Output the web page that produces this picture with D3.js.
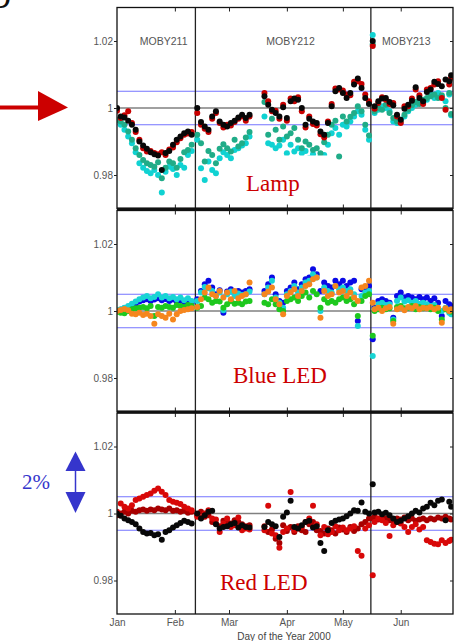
<!DOCTYPE html>
<html>
<head>
<meta charset="utf-8">
<script src="https://cdn.jsdelivr.net/npm/d3@7"></script>
<style>
  body { margin: 0; background: #fff; }
  svg { display: block; }
  .axis text { font-family: "Liberation Sans", Arial, sans-serif; font-size: 10px; fill: #555; }
  .axis line { stroke: #222; }
  .axis path { display: none; }
</style>
</head>
<body>
<svg id="chart" width="456" height="641"></svg>
<script>
// day of year 2000, one entry per plotted measurement column (shared by all panels)
const days = [
  1, 3, 5, 7, 9, 11, 13, 15, 17, 19, 21, 23, 25, 27, 29, 31, 33, 35, 37, 39, 41,
  44, 46, 48, 50, 52, 54, 56, 58, 60, 62, 64, 66, 68, 70, 72,
  80, 82, 84, 86, 88, 90, 92, 94, 96, 98, 100, 102, 104, 106, 108, 110, 112, 114, 116, 118, 120, 122, 124, 126, 128, 130, 132, 134, 136,
  138, 139, 141, 143, 145, 147, 149, 151, 153, 155, 157, 159, 161, 163, 165, 167, 169, 171, 173, 175, 177, 179, 180
];

const monthTicks = [1, 32, 61, 92, 122, 153];
const monthLabels = ["Jan", "Feb", "Mar", "Apr", "May", "Jun"];
const buoyBreaks = [43, 137];
const buoyNames = ["MOBY211", "MOBY212", "MOBY213"];
const buoyNameDays = [26, 94, 156];
const yTicks = [0.98, 1, 1.02];
const refLine = 1;
const bandLines = [0.995, 1.005];

// Lamp panel
const lampBlack = [
  1.0000, 0.9975, 0.9972, 0.9962, 0.9950, 0.9935, 0.9900, 0.9888, 0.9878, 0.9868, 0.9862, 0.9858, 0.9815, 0.9866, 0.9872, 0.9890, 0.9905, 0.9915, 0.9925, 0.9930, 0.9920,
  1.0000, 0.9958, 0.9945, 0.9935, 0.9975, 0.9990, 0.9960, 0.9950, 0.9945, 0.9955, 0.9962, 0.9972, 0.9980, 0.9970, 0.9980,
  1.0035, 1.0010, 0.9995, 0.9985, 0.9975, 1.0002, 0.9970, 1.0020, 1.0028, 1.0025, 1.0000, 0.9950, 0.9968, 0.9960, 0.9955, 0.9930, 0.9920, 0.9955, 1.0005, 1.0050, 1.0060, 1.0045, 1.0030, 1.0045, 1.0070, 1.0088, 1.0060, 1.0030, 1.0012,
  1.0200, 1.0005, 1.0020, 1.0028, 1.0030, 1.0018, 1.0008, 0.9980, 0.9965, 0.9998, 1.0010, 1.0022, 1.0062, 1.0030, 1.0020, 1.0048, 1.0055, 1.0078, 1.0072, 1.0065, 1.0085, 1.0080, 1.0098
];
const lampRed = [
  0.9992, 0.9970, 0.9978, 0.9990, 0.9955, 0.9928, 0.9905, 0.9880, 0.9870, 0.9872, 0.9866, 0.9862, 0.9868, 0.9860, 0.9876, 0.9882, 0.9898, 0.9910, 0.9920, 0.9924, 0.9928,
  0.9985, 0.9950, 0.9938, 0.9928, 0.9968, 0.9985, 0.9955, 0.9942, 0.9950, 0.9948, 0.9958, 0.9968, 0.9975, 0.9962, 0.9975,
  1.0045, 1.0020, 0.9990, 0.9992, 0.9968, 1.0010, 0.9962, 1.0028, 1.0020, 1.0032, 0.9990, 0.9942, 0.9975, 0.9952, 0.9948, 0.9922, 0.9912, 0.9960, 1.0012, 1.0058, 1.0055, 1.0052, 1.0040, 1.0038, 1.0078, 1.0080, 1.0072, 1.0040, 1.0020,
  1.0185, 0.9998, 1.0015, 1.0032, 1.0025, 1.0012, 1.0015, 0.9975, 0.9955, 1.0005, 1.0005, 1.0028, 1.0055, 1.0038, 1.0012, 1.0055, 1.0060, 1.0070, 1.0080, 1.0030, 0.9995, 1.0070, 1.0090
];
const lampTeal = [
  0.9965, 0.9960, 0.9950, 0.9930, 0.9905, 0.9880, 0.9860, 0.9845, 0.9835, 0.9830, 0.9825, 0.9838, 0.9790, 0.9822, 0.9840, 0.9835, 0.9822, 0.9848, 0.9868, 0.9875, 0.9890,
  0.9920, 0.9895, 0.9840, 0.9872, 0.9860, 0.9835, 0.9878, 0.9892, 0.9880, 0.9870, 0.9905, 0.9885, 0.9895, 0.9912, 0.9928,
  1.0018, 0.9920, 0.9968, 0.9935, 0.9905, 0.9945, 0.9915, 0.9925, 0.9940, 0.9905, 0.9880, 0.9900, 0.9890, 0.9875, 0.9880, 0.9865, 0.9898, 0.9920, 0.9950, 0.9962, 0.9855, 0.9975, 0.9960, 0.9974, 0.9985, 1.0005, 0.9990, 0.9950, 0.9918,
  1.0190, 0.9990, 1.0000, 0.9995, 1.0010, 0.9985, 0.9970, 0.9960, 0.9958, 0.9980, 0.9995, 1.0008, 1.0018, 1.0012, 1.0025, 1.0030, 1.0035, 1.0040, 1.0030, 1.0038, 1.0000, 1.0045, 0.9982
];
const lampCyan = [
  0.9962, 0.9950, 0.9935, 0.9915, 0.9895, 0.9868, 0.9835, 0.9822, 0.9812, 0.9805, 0.9815, 0.9800, 0.9748, 0.9810, 0.9825, 0.9818, 0.9800, 0.9830, 0.9822, 0.9860, 0.9872,
  0.9905, 0.9820, 0.9785, 0.9840, 0.9815, 0.9805, 0.9850, 0.9868, 0.9860, 0.9850, 0.9875, 0.9880, 0.9888, 0.9895, 0.9915,
  0.9975, 0.9895, 0.9890, 0.9880, 0.9888, 0.9905, 0.9865, 0.9890, 0.9870, 0.9880, 0.9865, 0.9872, 0.9850, 0.9862, 0.9845, 0.9855, 0.9860, 0.9890, 0.9925, 0.9940, 0.9920, 0.9950, 0.9945, 0.9960, 0.9975, 0.9990, 0.9980, 0.9935, 0.9905,
  1.0218, 0.9985, 0.9995, 1.0005, 1.0000, 0.9990, 0.9960, 0.9955, 0.9965, 0.9975, 0.9990, 1.0000, 1.0010, 1.0020, 1.0015, 1.0025, 1.0040, 1.0030, 1.0045, 1.0035, 1.0020, 1.0040, 0.9978
];

// Blue LED panel
const blueLedBlue = [
  1.0000, 1.0004, 1.0008, 1.0012, 1.0018, 1.0022, 1.0028, 1.0032, 1.0035, 1.0030, 1.0034, 1.0038, 1.0032, 1.0036, 1.0030, 1.0034, 1.0028, 1.0032, 1.0026, 1.0030, 1.0024,
  1.0035, 1.0060, 1.0080, 1.0090, 1.0070, 1.0050, 1.0062, 0.9995, 1.0058, 1.0065, 1.0052, 1.0060, 1.0055, 1.0060, 1.0065,
  1.0060, 1.0080, 1.0100, 1.0050, 1.0030, 1.0025, 1.0060, 1.0070, 1.0085, 1.0065, 1.0080, 1.0095, 1.0100, 1.0125, 1.0110, 1.0060, 1.0085, 1.0075, 1.0070, 1.0090, 1.0080, 1.0090, 1.0075, 1.0085, 1.0090, 0.9970, 1.0065, 1.0070, 1.0075,
  0.9916, 1.0010, 1.0030, 1.0035, 1.0030, 1.0025, 0.9980, 1.0045, 1.0055, 1.0040, 1.0045, 1.0040, 1.0035, 1.0042, 1.0035, 1.0040, 1.0030, 1.0038, 1.0025, 0.9985, 1.0030, 1.0020, 1.0015
];
const blueLedCyan = [
  1.0002, 1.0005, 1.0010, 1.0015, 1.0022, 1.0028, 1.0035, 1.0040, 1.0045, 1.0038, 1.0042, 1.0050, 1.0040, 1.0045, 1.0038, 1.0042, 1.0035, 1.0040, 1.0032, 1.0038, 1.0030,
  1.0030, 1.0055, 1.0072, 1.0068, 1.0060, 1.0045, 1.0055, 1.0002, 1.0050, 1.0058, 1.0045, 1.0052, 1.0048, 1.0050, 1.0058,
  1.0050, 1.0070, 1.0090, 1.0040, 1.0025, 1.0010, 1.0050, 1.0060, 1.0075, 1.0055, 1.0070, 1.0085, 1.0090, 1.0110, 1.0100, 1.0000, 1.0070, 1.0060, 1.0055, 1.0075, 1.0065, 1.0070, 1.0060, 1.0065, 1.0050, 0.9955, 1.0045, 1.0055, 1.0060,
  0.9866, 1.0005, 1.0020, 1.0025, 1.0018, 1.0020, 0.9975, 1.0030, 1.0040, 1.0028, 1.0032, 1.0025, 1.0030, 1.0022, 1.0025, 1.0020, 1.0015, 1.0018, 1.0005, 1.0000, 1.0010, 0.9995, 0.9990
];
const blueLedGreen = [
  0.9998, 0.9995, 0.9993, 1.0000, 1.0005, 1.0008, 1.0010, 1.0012, 1.0008, 1.0015, 0.9985, 1.0012, 1.0010, 1.0015, 1.0012, 1.0010, 1.0018, 1.0015, 1.0012, 1.0018, 1.0015,
  1.0010, 1.0015, 1.0040, 1.0035, 1.0025, 1.0030, 1.0028, 1.0010, 1.0020, 1.0030, 1.0022, 1.0025, 1.0020, 1.0028, 1.0030,
  1.0025, 1.0020, 1.0035, 1.0020, 1.0005, 1.0000, 1.0030, 1.0035, 1.0040, 1.0030, 1.0045, 1.0055, 1.0040, 1.0060, 1.0050, 1.0010, 1.0035, 1.0025, 1.0030, 1.0025, 1.0035, 1.0040, 1.0030, 1.0035, 1.0020, 0.9985, 1.0030, 1.0045, 1.0050,
  0.9926, 1.0000, 1.0005, 1.0010, 1.0005, 1.0008, 0.9970, 1.0012, 1.0015, 1.0008, 1.0010, 1.0015, 1.0005, 1.0012, 1.0008, 1.0010, 1.0005, 1.0010, 1.0000, 0.9975, 1.0005, 1.0000, 0.9998
];
const blueLedOrange = [
  1.0000, 1.0003, 1.0006, 1.0002, 0.9992, 0.9990, 0.9995, 0.9988, 0.9992, 0.9985, 0.9962, 0.9990, 0.9985, 0.9980, 0.9992, 0.9975, 0.9990, 1.0000, 1.0003, 1.0005, 1.0008,
  1.0012, 1.0035, 1.0055, 1.0070, 1.0050, 1.0045, 1.0060, 1.0040, 1.0055, 1.0035, 1.0060, 1.0038, 1.0045, 1.0050, 1.0085,
  1.0050, 1.0058, 1.0070, 1.0035, 1.0020, 0.9990, 1.0045, 1.0055, 1.0065, 1.0045, 1.0060, 1.0075, 1.0080, 1.0095, 1.0100, 0.9980, 1.0060, 1.0045, 1.0050, 1.0075, 1.0055, 1.0060, 1.0045, 1.0055, 1.0040, 1.0030, 1.0070, 1.0075, 1.0090,
  1.0025, 1.0005, 1.0010, 1.0000, 1.0008, 1.0012, 0.9962, 1.0005, 1.0010, 1.0002, 1.0012, 1.0008, 1.0015, 1.0005, 1.0010, 1.0008, 1.0012, 1.0005, 1.0010, 0.9965, 1.0008, 1.0000, 1.0005
];

// Red LED panel
const redLedBlack = [
  1.0000, 0.9993, 0.9985, 0.9980, 0.9975, 0.9968, 0.9955, 0.9945, 0.9940, 0.9942, 0.9935, 0.9938, 0.9922, 0.9945, 0.9950, 0.9958, 0.9965, 0.9972, 0.9978, 0.9975, 0.9970,
  1.0000, 0.9985, 0.9995, 1.0005, 1.0008, 0.9968, 0.9955, 0.9960, 0.9962, 0.9968, 0.9972, 0.9958, 0.9965, 0.9960, 0.9958,
  0.9960, 0.9975, 0.9968, 0.9962, 0.9930, 0.9990, 1.0003, 1.0038, 0.9960, 0.9955, 0.9965, 0.9975, 0.9978, 0.9958, 0.9962, 0.9912, 0.9888, 0.9950, 0.9972, 0.9978, 0.9982, 0.9985, 0.9992, 1.0000, 1.0010, 1.0008, 1.0033, 1.0005, 1.0000,
  1.0087, 1.0003, 1.0005, 0.9998, 1.0002, 0.9995, 0.9985, 0.9975, 0.9978, 0.9985, 0.9992, 1.0000, 1.0008, 1.0003, 1.0015, 1.0020, 1.0032, 1.0025, 1.0038, 1.0042, 0.9980, 1.0035, 1.0020
];
const redLedRed = [
  1.0005, 1.0030, 1.0020, 1.0015, 1.0025, 1.0040, 1.0045, 1.0050, 1.0055, 1.0060, 1.0068, 1.0075, 1.0065, 1.0055, 1.0040, 1.0035, 1.0032, 1.0028, 1.0020, 1.0015, 1.0010,
  0.9990, 0.9988, 1.0000, 1.0010, 0.9985, 0.9982, 0.9945, 0.9970, 0.9985, 0.9960, 0.9965, 0.9988, 0.9950, 0.9955, 0.9952,
  0.9950, 1.0023, 0.9940, 0.9935, 0.9898, 0.9945, 0.9955, 1.0064, 0.9950, 0.9955, 0.9960, 0.9975, 0.9985, 1.0023, 0.9968, 0.9935, 0.9960, 0.9938, 0.9945, 0.9962, 0.9950, 0.9958, 0.9950, 0.9955, 0.9962, 0.9888, 0.9874, 0.9955, 0.9965,
  0.9816, 0.9975, 0.9985, 0.9980, 0.9972, 0.9933, 0.9965, 0.9975, 0.9970, 0.9960, 0.9945, 0.9960, 0.9968, 0.9952, 0.9960, 0.9920, 0.9915, 0.9910, 0.9908, 0.9920, 0.9912, 0.9918, 0.9922
];
const redLedDark = [
  0.9995, 1.0000, 1.0005, 1.0000, 1.0008, 1.0005, 1.0010, 1.0012, 1.0008, 1.0012, 1.0010, 1.0015, 1.0012, 1.0010, 1.0015, 1.0008, 1.0010, 1.0005, 1.0008, 1.0002, 1.0005,
  0.9995, 1.0005, 0.9990, 0.9995, 0.9975, 0.9970, 0.9962, 0.9978, 0.9975, 0.9970, 0.9980, 0.9975, 0.9968, 0.9962, 0.9965,
  0.9962, 0.9945, 0.9952, 0.9925, 0.9912, 0.9965, 0.9948, 0.9960, 0.9945, 0.9962, 0.9950, 0.9945, 0.9968, 0.9975, 0.9950, 0.9948, 0.9940, 0.9955, 0.9950, 0.9940, 0.9958, 0.9952, 0.9945, 0.9960, 0.9948, 0.9955, 0.9968, 0.9975, 0.9985,
  0.9985, 0.9990, 0.9982, 0.9988, 0.9985, 0.9980, 0.9978, 0.9985, 0.9982, 0.9988, 0.9980, 0.9985, 0.9978, 0.9982, 0.9985, 0.9980, 0.9985, 0.9982, 0.9988, 0.9985, 0.9990, 0.9985, 0.9982
];

const svg = d3.select("#chart");
const plotLeft = 117, plotRight = 453, panelH = 201;

const x = d3.scaleLinear().domain([1, 181]).range([plotLeft, plotRight]);

const panels = [
  {
    top: 7.5, name: "Lamp", nameX: 246, nameY: 191, showBuoys: true,
    series: [
      { values: lampCyan, color: "#10d2d2" },
      { values: lampTeal, color: "#20ac88" },
      { values: lampRed, color: "#c80000" },
      { values: lampBlack, color: "#080808" }
    ]
  },
  {
    top: 210.5, name: "Blue LED", nameX: 233, nameY: 383,
    series: [
      { values: blueLedBlue, color: "#0a0ae6" },
      { values: blueLedCyan, color: "#18d4d4" },
      { values: blueLedGreen, color: "#1ec81e" },
      { values: blueLedOrange, color: "#f5861e" }
    ]
  },
  {
    top: 413, name: "Red LED", nameX: 220, nameY: 590, showMonths: true,
    series: [
      { values: redLedDark, color: "#a80000" },
      { values: redLedRed, color: "#d80808" },
      { values: redLedBlack, color: "#080808" }
    ]
  }
];

panels.forEach((p, i) => {
  const y = d3.scaleLinear().domain([0.97, 1.03]).range([p.top + panelH, p.top]);
  const g = svg.append("g");

  g.append("clipPath").attr("id", "clip" + i)
    .append("rect")
    .attr("x", plotLeft).attr("y", p.top)
    .attr("width", plotRight - plotLeft).attr("height", panelH);

  // reference lines
  g.selectAll(".band")
    .data(bandLines)
    .join("line")
    .attr("x1", plotLeft).attr("x2", plotRight)
    .attr("y1", d => y(d)).attr("y2", d => y(d))
    .attr("stroke", "#7474ff").attr("stroke-width", 1.2);

  g.append("line")
    .attr("x1", plotLeft).attr("x2", plotRight)
    .attr("y1", y(refLine)).attr("y2", y(refLine))
    .attr("stroke", "#808080").attr("stroke-width", 1.4);

  g.selectAll(".buoy")
    .data(buoyBreaks)
    .join("line")
    .attr("x1", d => x(d)).attr("x2", d => x(d))
    .attr("y1", p.top).attr("y2", p.top + panelH)
    .attr("stroke", "#222").attr("stroke-width", 1.3);

  // dots
  const dots = g.append("g").attr("clip-path", `url(#clip${i})`);
  p.series.forEach(s => {
    dots.append("g")
      .selectAll("circle")
      .data(days.map((d, k) => ({ day: d, v: s.values[k] })).filter(d => d.v != null))
      .join("circle")
      .attr("cx", d => x(d.day))
      .attr("cy", d => y(d.v))
      .attr("r", 3)
      .attr("fill", s.color);
  });

  if (p.showBuoys) {
    g.selectAll(".bname")
      .data(buoyNames)
      .join("text")
      .attr("x", (d, k) => x(buoyNameDays[k]))
      .attr("y", y(1.02) + 4)
      .attr("text-anchor", "middle")
      .attr("font-family", "Liberation Sans, Arial, sans-serif")
      .attr("font-size", "10.5px")
      .attr("fill", "#555")
      .text(d => d);

    // white label box that hides the lowest points
    g.append("rect")
      .attr("x", 285).attr("y", 155.5)
      .attr("width", 48).attr("height", 16)
      .attr("fill", "#fff");
  }

  g.append("text")
    .attr("x", p.nameX).attr("y", p.nameY)
    .attr("font-family", "Liberation Serif, Times New Roman, serif")
    .attr("font-size", "23px")
    .attr("fill", "#cc0000")
    .text(p.name);

  // frame and ticks
  g.append("rect")
    .attr("x", plotLeft).attr("y", p.top)
    .attr("width", plotRight - plotLeft).attr("height", panelH)
    .attr("fill", "none").attr("stroke", "#111").attr("stroke-width", 1.3);

  g.append("g").attr("class", "axis")
    .attr("transform", `translate(${plotLeft},0)`)
    .call(d3.axisLeft(y).tickValues(yTicks).tickSize(3).tickPadding(1)
      .tickFormat(d => d === 1 ? "1" : d.toFixed(2)));

  g.append("g").attr("class", "axis")
    .attr("transform", `translate(${plotRight},0)`)
    .call(d3.axisRight(y).tickValues(yTicks).tickSize(-3).tickFormat(""));

  g.append("g").attr("class", "axis")
    .attr("transform", `translate(0,${p.top})`)
    .call(d3.axisTop(x).tickValues(monthTicks.slice(1)).tickSize(-4).tickFormat(""));

  const bottomAxis = g.append("g").attr("class", "axis")
    .attr("transform", `translate(0,${p.top + panelH})`)
    .call(d3.axisBottom(x).tickValues(monthTicks).tickSize(-4).tickPadding(5)
      .tickFormat((d, k) => p.showMonths ? monthLabels[k] : ""));
  bottomAxis.selectAll(".tick line").filter(d => d === 1).remove();
});

// heavy separators between panels
[209, 412].forEach(yy => {
  svg.append("line")
    .attr("x1", plotLeft).attr("x2", plotRight)
    .attr("y1", yy).attr("y2", yy)
    .attr("stroke", "#111").attr("stroke-width", 3.2);
});

svg.append("text")
  .attr("x", 284).attr("y", 640)
  .attr("text-anchor", "middle")
  .attr("font-family", "Liberation Sans, Arial, sans-serif")
  .attr("font-size", "10px")
  .attr("fill", "#444")
  .text("Day of the Year 2000");

// red arrow pointing at the lamp panel
svg.append("rect").attr("x", 0).attr("y", 105.5).attr("width", 40).attr("height", 4).attr("fill", "#cc0000");
svg.append("path").attr("d", "M38,91 L68,107.5 L38,121 Z").attr("fill", "#cc0000");

// 2% scale marker
const blue = "#3535cc";
svg.append("path").attr("d", "M65.5,471 L75.5,451.5 L85.5,471 Z").attr("fill", blue);
svg.append("path").attr("d", "M65.5,492 L75.5,513 L85.5,492 Z").attr("fill", blue);
svg.append("line").attr("x1", 75.5).attr("x2", 75.5).attr("y1", 470).attr("y2", 493)
  .attr("stroke", blue).attr("stroke-width", 1.5);
svg.append("text")
  .attr("x", 22).attr("y", 489)
  .attr("font-family", "Liberation Serif, Times New Roman, serif")
  .attr("font-size", "21px")
  .attr("fill", blue)
  .text("2%");

// tail of the cropped caption letter
svg.append("text")
  .attr("x", -6).attr("y", -1)
  .attr("font-family", "Liberation Serif, Times New Roman, serif")
  .attr("font-style", "italic")
  .attr("font-size", "40px")
  .attr("fill", "#111")
  .text("g");
</script>
</body>
</html>
